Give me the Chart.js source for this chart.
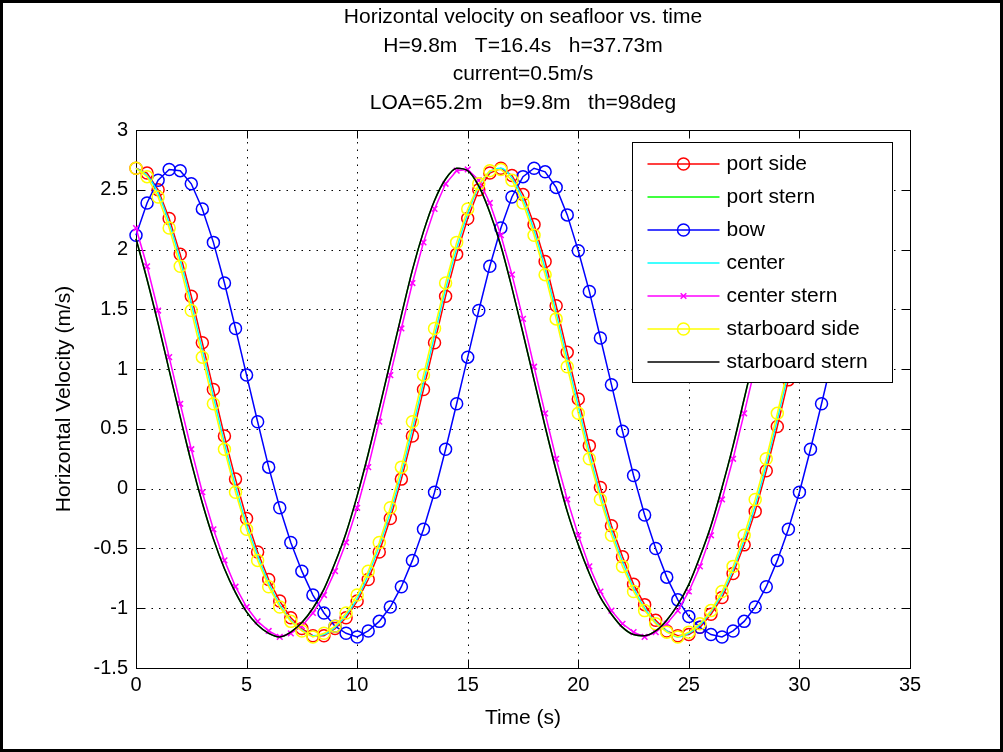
<!DOCTYPE html>
<html>
<head>
<meta charset="utf-8">
<title>Horizontal velocity on seafloor vs. time</title>
<script src="https://cdn.jsdelivr.net/npm/chart.js@4.4.0/dist/chart.umd.min.js"></script>
<style>
  html, body { margin: 0; padding: 0; background: #fff; }
  #frame { width: 1003px; height: 752px; box-sizing: border-box; border: 3px solid #000; background: #fff; }
  canvas { display: block; }
</style>
</head>
<body>
<div id="frame"><canvas id="velocityChart" width="997" height="746"></canvas></div>
<script>
// sample times (s)
var timeSec = [0, 0.5, 1, 1.5, 2, 2.5, 3, 3.5, 4, 4.5, 5, 5.5, 6, 6.5, 7, 7.5, 8,
  8.5, 9, 9.5, 10, 10.5, 11, 11.5, 12, 12.5, 13, 13.5, 14, 14.5, 15, 15.5, 16, 16.5,
  17, 17.5, 18, 18.5, 19, 19.5, 20, 20.5, 21, 21.5, 22, 22.5, 23, 23.5, 24, 24.5,
  25, 25.5, 26, 26.5, 27, 27.5, 28, 28.5, 29, 29.5, 30, 30.5, 31, 31.5, 32, 32.5];

// horizontal velocity (m/s) at each hull point
var portSide = [2.68, 2.64, 2.50, 2.26, 1.96, 1.61, 1.22, 0.83, 0.44, 0.08, -0.25, -0.53, -0.76, -0.94, -1.08, -1.17, -1.23,
  -1.23, -1.17, -1.08, -0.94, -0.76, -0.53, -0.25, 0.08, 0.44, 0.83, 1.22, 1.61, 1.96, 2.26, 2.50, 2.64, 2.68,
  2.62, 2.46, 2.21, 1.90, 1.53, 1.14, 0.75, 0.36, 0.01, -0.31, -0.57, -0.80, -0.97, -1.10, -1.19, -1.23,
  -1.22, -1.16, -1.05, -0.91, -0.71, -0.47, -0.19, 0.15, 0.52, 0.91, 1.30, 1.68, 2.03, 2.31, 2.53, 2.66];

var portStern = [2.09, 1.75, 1.38, 0.99, 0.60, 0.22, -0.12, -0.42, -0.67, -0.87, -1.03, -1.14, -1.21, -1.24, -1.20, -1.12, -1.00,
  -0.84, -0.62, -0.37, -0.06, 0.29, 0.67, 1.06, 1.45, 1.83, 2.15, 2.41, 2.59, 2.68, 2.66, 2.53, 2.31, 2.03,
  1.68, 1.30, 0.91, 0.52, 0.15, -0.19, -0.47, -0.71, -0.91, -1.05, -1.16, -1.22, -1.23, -1.19, -1.10, -0.97,
  -0.80, -0.57, -0.31, 0.01, 0.36, 0.75, 1.14, 1.53, 1.90, 2.21, 2.46, 2.62, 2.68, 2.64, 2.50, 2.26];

var bow = [2.12, 2.39, 2.58, 2.67, 2.66, 2.55, 2.34, 2.06, 1.72, 1.34, 0.95, 0.56, 0.18, -0.16, -0.45, -0.69, -0.89,
  -1.04, -1.15, -1.21, -1.24, -1.19, -1.11, -0.99, -0.82, -0.60, -0.34, -0.03, 0.33, 0.71, 1.10, 1.49, 1.86, 2.18,
  2.44, 2.61, 2.68, 2.65, 2.52, 2.29, 1.99, 1.65, 1.26, 0.87, 0.48, 0.11, -0.22, -0.50, -0.74, -0.93,
  -1.07, -1.16, -1.22, -1.24, -1.19, -1.11, -0.99, -0.82, -0.60, -0.34, -0.03, 0.33, 0.71, 1.10, 1.49, 1.86];

var center = [2.68, 2.62, 2.47, 2.22, 1.91, 1.55, 1.16, 0.77, 0.38, 0.02, -0.30, -0.56, -0.79, -0.97, -1.10, -1.18, -1.23,
  -1.22, -1.16, -1.06, -0.92, -0.72, -0.48, -0.20, 0.13, 0.50, 0.89, 1.28, 1.67, 2.01, 2.30, 2.53, 2.65, 2.68,
  2.60, 2.42, 2.16, 1.84, 1.47, 1.08, 0.69, 0.30, -0.05, -0.35, -0.61, -0.83, -1.00, -1.12, -1.19, -1.24,
  -1.21, -1.14, -1.03, -0.88, -0.68, -0.43, -0.14, 0.20, 0.58, 0.97, 1.36, 1.74, 2.08, 2.36, 2.56, 2.67];

var centerStern = [2.18, 1.86, 1.49, 1.10, 0.71, 0.33, -0.03, -0.34, -0.60, -0.82, -0.99, -1.11, -1.19, -1.24, -1.21, -1.15, -1.04,
  -0.89, -0.69, -0.45, -0.16, 0.18, 0.56, 0.95, 1.34, 1.72, 2.06, 2.34, 2.55, 2.66, 2.67, 2.58, 2.39, 2.12,
  1.79, 1.42, 1.02, 0.63, 0.25, -0.09, -0.39, -0.65, -0.86, -1.02, -1.13, -1.20, -1.24, -1.20, -1.13, -1.02,
  -0.86, -0.65, -0.39, -0.09, 0.25, 0.63, 1.02, 1.42, 1.79, 2.12, 2.39, 2.58, 2.67, 2.66, 2.55, 2.34];

var starboardSide = [2.68, 2.61, 2.44, 2.18, 1.86, 1.49, 1.10, 0.71, 0.33, -0.03, -0.34, -0.60, -0.82, -0.99, -1.11, -1.19, -1.24,
  -1.21, -1.15, -1.04, -0.89, -0.69, -0.45, -0.16, 0.18, 0.56, 0.95, 1.34, 1.72, 2.06, 2.34, 2.55, 2.66, 2.67,
  2.58, 2.39, 2.12, 1.79, 1.42, 1.02, 0.63, 0.25, -0.09, -0.39, -0.65, -0.86, -1.02, -1.13, -1.20, -1.24,
  -1.20, -1.13, -1.02, -0.86, -0.65, -0.39, -0.09, 0.25, 0.63, 1.02, 1.42, 1.79, 2.12, 2.39, 2.58, 2.67];

var starboardStern = [2.09, 1.75, 1.38, 0.99, 0.60, 0.22, -0.12, -0.42, -0.67, -0.87, -1.03, -1.14, -1.21, -1.24, -1.20, -1.12, -1.00,
  -0.84, -0.62, -0.37, -0.06, 0.29, 0.67, 1.06, 1.45, 1.83, 2.15, 2.41, 2.59, 2.68, 2.66, 2.53, 2.31, 2.03,
  1.68, 1.30, 0.91, 0.52, 0.15, -0.19, -0.47, -0.71, -0.91, -1.05, -1.16, -1.22, -1.23, -1.19, -1.10, -0.97,
  -0.80, -0.57, -0.31, 0.01, 0.36, 0.75, 1.14, 1.53, 1.90, 2.21, 2.46, 2.62, 2.68, 2.64, 2.50, 2.26];

var titleLines = [
  'Horizontal velocity on seafloor vs. time',
  'H=9.8m   T=16.4s   h=37.73m',
  'current=0.5m/s',
  'LOA=65.2m   b=9.8m   th=98deg'
];

var FONT = "'Liberation Sans', Arial, Helvetica, sans-serif";
var LINE_W = 1.5;

function makeLine(label, values, color, marker, index) {
  var radius = 0;
  if (marker === 'circle') radius = 6;
  if (marker === 'crossRot') radius = 4;
  return {
    label: label,
    data: timeSec.map(function (t, k) { return { x: t, y: values[k] }; }),
    borderColor: color,
    backgroundColor: color,
    borderWidth: LINE_W,
    pointStyle: marker || 'circle',
    pointRadius: radius,
    pointHoverRadius: radius,
    pointBorderColor: color,
    pointBackgroundColor: 'rgba(0,0,0,0)',
    pointBorderWidth: LINE_W,
    tension: 0,
    cubicInterpolationMode: marker ? 'default' : 'monotone',
    clip: false,
    order: 7 - index   // later series on top
  };
}

// four-line title centred over the axes
var stackedTitle = {
  id: 'stackedTitle',
  afterDraw: function (chart) {
    var ctx = chart.ctx, a = chart.chartArea;
    var cx = (a.left + a.right) / 2;
    ctx.save();
    ctx.fillStyle = '#000';
    ctx.font = '21px ' + FONT;
    ctx.textAlign = 'center';
    ctx.textBaseline = 'middle';
    titleLines.forEach(function (line, i) {
      ctx.fillText(line, cx, 14.5 + i * 28.5);
    });
    ctx.restore();
  }
};

// grid, box and inward tick marks, drawn below the curves
var axesFrame = {
  id: 'axesFrame',
  beforeDatasetsDraw: function (chart) {
    var ctx = chart.ctx, a = chart.chartArea;
    var xs = chart.scales.x, ys = chart.scales.y;
    var L = Math.round(a.left) + 0.5, R = Math.round(a.right) + 0.5;
    var T = Math.round(a.top) + 0.5, B = Math.round(a.bottom) + 0.5;
    var tick = 8;
    ctx.save();
    ctx.strokeStyle = '#000';
    ctx.lineWidth = 1;

    ctx.setLineDash([1.5, 6]);
    xs.ticks.forEach(function (tk) {
      if (tk.value <= xs.min || tk.value >= xs.max) return;
      var px = Math.round(xs.getPixelForValue(tk.value)) + 0.5;
      ctx.beginPath(); ctx.moveTo(px, B); ctx.lineTo(px, T); ctx.stroke();
    });
    ys.ticks.forEach(function (tk) {
      if (tk.value <= ys.min || tk.value >= ys.max) return;
      var py = Math.round(ys.getPixelForValue(tk.value)) + 0.5;
      ctx.beginPath(); ctx.moveTo(L, py); ctx.lineTo(R, py); ctx.stroke();
    });

    ctx.setLineDash([]);
    ctx.strokeRect(L, T, R - L, B - T);
    ctx.beginPath();
    xs.ticks.forEach(function (tk) {
      var px = Math.round(xs.getPixelForValue(tk.value)) + 0.5;
      ctx.moveTo(px, B); ctx.lineTo(px, B - tick);
      ctx.moveTo(px, T); ctx.lineTo(px, T + tick);
    });
    ys.ticks.forEach(function (tk) {
      var py = Math.round(ys.getPixelForValue(tk.value)) + 0.5;
      ctx.moveTo(L, py); ctx.lineTo(L + tick, py);
      ctx.moveTo(R, py); ctx.lineTo(R - tick, py);
    });
    ctx.stroke();
    ctx.restore();
  }
};

// boxed legend in the upper right of the axes
var boxLegend = {
  id: 'boxLegend',
  afterDatasetsDraw: function (chart) {
    var ctx = chart.ctx, a = chart.chartArea;
    var w = 260, h = 240, rowH = 33.1;
    var left = Math.round(a.right - 18 - w) + 0.5;
    var top = Math.round(a.top + 12) + 0.5;
    ctx.save();
    ctx.fillStyle = '#fff';
    ctx.fillRect(left, top, w, h);
    ctx.strokeStyle = '#000';
    ctx.lineWidth = 1;
    ctx.strokeRect(left, top, w, h);
    ctx.font = '21px ' + FONT;
    ctx.textBaseline = 'middle';
    ctx.textAlign = 'left';
    chart.data.datasets.forEach(function (ds, i) {
      var y = Math.round(top + 21 + i * rowH);
      var mx = left + 51;
      ctx.lineWidth = LINE_W;
      ctx.strokeStyle = ds.borderColor;
      ctx.beginPath();
      ctx.moveTo(left + 15, y);
      ctx.lineTo(left + 87, y);
      ctx.stroke();
      if (ds.pointRadius > 0) {
        var r = ds.pointRadius;
        ctx.beginPath();
        if (ds.pointStyle === 'crossRot') {
          var d = r * 0.7071;
          ctx.moveTo(mx - d, y - d); ctx.lineTo(mx + d, y + d);
          ctx.moveTo(mx - d, y + d); ctx.lineTo(mx + d, y - d);
        } else {
          ctx.arc(mx, y, r, 0, Math.PI * 2);
        }
        ctx.stroke();
      }
      ctx.fillStyle = '#000';
      ctx.fillText(ds.label, left + 94, y);
    });
    ctx.restore();
  }
};

function plainTick(value) {
  return String(Number(value.toFixed(2)));
}

var ctx = document.getElementById('velocityChart').getContext('2d');

var velocityChart = new Chart(ctx, {
  type: 'line',
  data: {
    datasets: [
      makeLine('port side', portSide, '#ff0000', 'circle', 0),
      makeLine('port stern', portStern, '#00ff00', null, 1),
      makeLine('bow', bow, '#0000ff', 'circle', 2),
      makeLine('center', center, '#00ffff', null, 3),
      makeLine('center stern', centerStern, '#ff00ff', 'crossRot', 4),
      makeLine('starboard side', starboardSide, '#ffff00', 'circle', 5),
      makeLine('starboard stern', starboardStern, '#000000', null, 6)
    ]
  },
  options: {
    responsive: false,
    animation: false,
    events: [],
    devicePixelRatio: 1,
    layout: { padding: { left: 0, right: 90, top: 127, bottom: 0 } },
    plugins: {
      legend: { display: false },
      tooltip: { enabled: false },
      title: { display: false }
    },
    scales: {
      x: {
        type: 'linear',
        min: 0,
        max: 35,
        ticks: { stepSize: 5, color: '#000', font: { family: FONT, size: 20 }, padding: 5, maxRotation: 0, callback: plainTick },
        grid: { display: false, drawTicks: false, tickLength: 0 },
        border: { display: false },
        title: {
          display: true, text: 'Time (s)', color: '#000',
          font: { family: FONT, size: 21 }, padding: { top: 0, bottom: 18 }
        },
        afterFit: function (scale) { scale.height = 81; }
      },
      y: {
        type: 'linear',
        min: -1.5,
        max: 3,
        ticks: { stepSize: 0.5, color: '#000', font: { family: FONT, size: 20 }, padding: 8, callback: plainTick },
        grid: { display: false, drawTicks: false, tickLength: 0 },
        border: { display: false },
        title: {
          display: true, text: 'Horizontal Velocity (m/s)', color: '#000',
          font: { family: FONT, size: 21 }, padding: { top: 49, bottom: 0 }
        },
        afterFit: function (scale) { scale.width = 133; }
      }
    }
  },
  plugins: [axesFrame, boxLegend, stackedTitle]
});
</script>
</body>
</html>
